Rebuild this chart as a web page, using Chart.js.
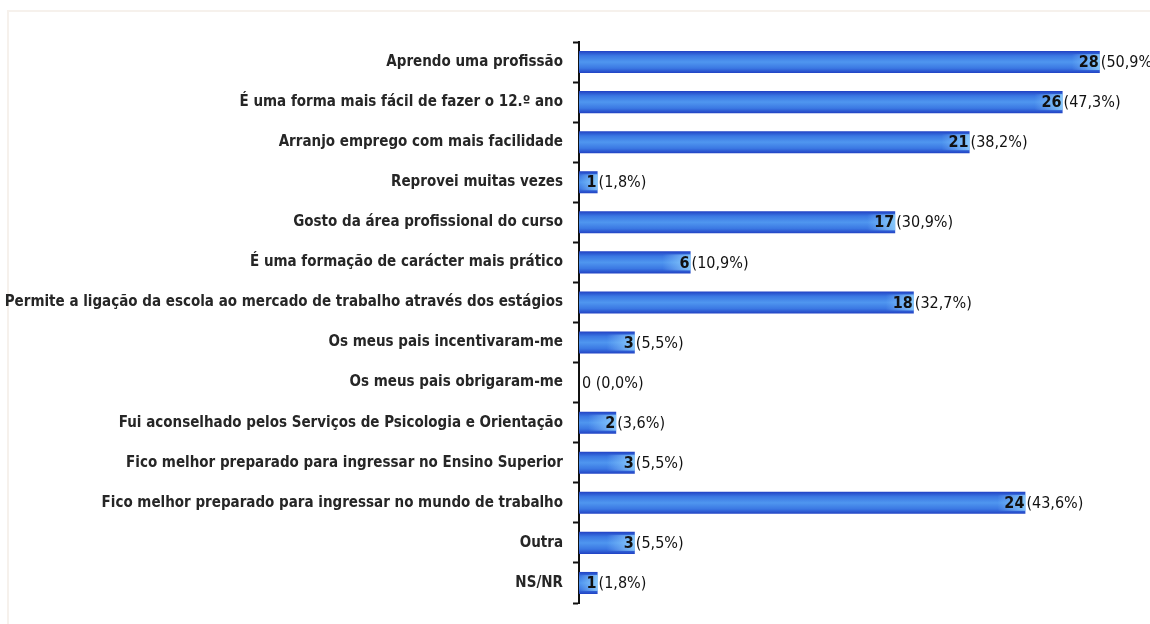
<!DOCTYPE html>
<html>
<head>
<meta charset="utf-8">
<script src="https://cdn.jsdelivr.net/npm/chart.js@4/dist/chart.umd.min.js"></script>
<style>
  body { margin: 0; background: #fff; overflow: hidden; }
  #wrap { position: absolute; left: 0; top: 0; width: 1150px; height: 624px; overflow: hidden; }
  #frame { position: absolute; left: 7px; top: 10px; width: 1200px; height: 700px;
           border-top: 2px solid #f6f1ec; border-left: 2px solid #f6f1ec; }
  canvas { position: absolute; left: 0; top: 0; }
</style>
</head>
<body>
<div id="wrap">
  <div id="frame"></div>
  <canvas id="chart" width="1150" height="624"></canvas>
</div>
<script>
// Motivos para a escolha do curso profissional
const categories = [
  'Aprendo uma profissão',
  'É uma forma mais fácil de fazer o 12.º ano',
  'Arranjo emprego com mais facilidade',
  'Reprovei muitas vezes',
  'Gosto da área profissional do curso',
  'É uma formação de carácter mais prático',
  'Permite a ligação da escola ao mercado de trabalho através dos estágios',
  'Os meus pais incentivaram-me',
  'Os meus pais obrigaram-me',
  'Fui aconselhado pelos Serviços de Psicologia e Orientação',
  'Fico melhor preparado para ingressar no Ensino Superior',
  'Fico melhor preparado para ingressar no mundo de trabalho',
  'Outra',
  'NS/NR'
];
const counts = [28, 26, 21, 1, 17, 6, 18, 3, 0, 2, 3, 24, 3, 1];
const percents = ['50,9', '47,3', '38,2', '1,8', '30,9', '10,9', '32,7', '5,5', '0,0', '3,6', '5,5', '43,6', '5,5', '1,8'];

const labelFont = '"DejaVu Sans Condensed", "Liberation Sans", sans-serif';

function barGradient(context) {
  const chart = context.chart;
  if (!chart.chartArea) return '#3b78e0';
  const yScale = chart.scales.y;
  const cy = yScale.getPixelForValue(context.dataIndex);
  const half = 11;
  const g = chart.ctx.createLinearGradient(0, cy - half, 0, cy + half);
  g.addColorStop(0, '#2142c4');
  g.addColorStop(0.22, '#3b78e3');
  g.addColorStop(0.5, '#4f96ef');
  g.addColorStop(0.78, '#3b78e3');
  g.addColorStop(1, '#2142c4');
  return g;
}

// labels at the end of each bar: count in bold, percentage after it
const valueLabels = {
  id: 'valueLabels',
  afterDatasetsDraw(chart) {
    const ctx = chart.ctx;
    const meta = chart.getDatasetMeta(0);
    ctx.save();
    ctx.textBaseline = 'middle';
    meta.data.forEach((bar, i) => {
      const v = counts[i];
      const end = bar.x;
      const y = bar.y + 1;
      if (v > 0) {
        // light glow near the end of the bar
        const w = Math.min(28, end - bar.base);
        const hg = ctx.createLinearGradient(end - w, 0, end, 0);
        hg.addColorStop(0, 'rgba(150,210,255,0)');
        hg.addColorStop(1, 'rgba(150,215,255,0.8)');
        ctx.fillStyle = hg;
        ctx.fillRect(end - w, bar.y - 8, w, 16);

        ctx.fillStyle = '#111';
        ctx.font = 'bold 16px ' + labelFont;
        ctx.textAlign = 'right';
        ctx.fillText(String(v), end - 1, y);
        ctx.font = '16px ' + labelFont;
        ctx.textAlign = 'left';
        ctx.fillText('(' + percents[i] + '%)', end + 1, y);
      } else {
        ctx.fillStyle = '#111';
        ctx.font = '16px ' + labelFont;
        ctx.textAlign = 'left';
        ctx.fillText(v + ' (' + percents[i] + '%)', end + 3, y);
      }
    });
    ctx.restore();
  }
};

new Chart(document.getElementById('chart'), {
  type: 'bar',
  data: {
    labels: categories,
    datasets: [{
      data: counts,
      backgroundColor: barGradient,
      borderWidth: 0,
      barPercentage: 0.55,
      categoryPercentage: 1
    }]
  },
  plugins: [valueLabels],
  options: {
    indexAxis: 'y',
    responsive: false,
    animation: false,
    layout: { padding: { top: 42, bottom: 21, left: 0, right: 13 } },
    plugins: {
      legend: { display: false },
      tooltip: { enabled: false }
    },
    scales: {
      x: {
        display: false,
        min: 0,
        max: 30
      },
      y: {
        afterFit(scale) { scale.width = 579; },
        border: { display: true, color: '#111', width: 2 },
        grid: {
          drawOnChartArea: false,
          drawTicks: true,
          tickLength: 6,
          tickWidth: 2,
          tickColor: '#111',
          offset: true
        },
        ticks: {
          padding: 10,
          color: '#262626',
          font: { family: labelFont, size: 15, weight: 'bold' }
        }
      }
    }
  }
});
</script>
</body>
</html>
